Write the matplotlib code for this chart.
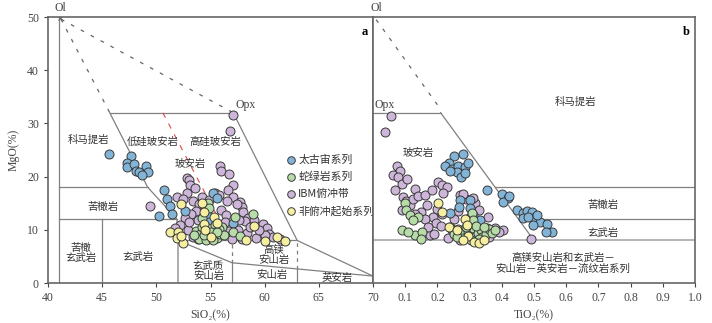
import matplotlib
matplotlib.use("Agg")
import matplotlib.pyplot as plt
import numpy as np

plt.rcParams['font.family'] = ['Liberation Serif', 'Noto Sans CJK SC', 'DejaVu Sans']
CJK = ['Noto Sans CJK SC', 'DejaVu Sans']

# --- data: panel a (SiO2, MgO) ---------------------------------------------
a_blue_x = [45.6, 47.7, 47.3, 47.3, 47.9, 48.1, 48.4, 49.0, 49.2, 48.7,
            50.7, 51.0, 51.3, 51.4, 50.2, 52.6, 55.2, 55.6, 55.0, 57.1, 54.8, 55.2, 54.9]
a_blue_y = [24.2, 23.9, 22.6, 21.8, 22.3, 21.1, 20.9, 22.0, 20.9, 20.3,
            17.4, 15.7, 14.4, 13.0, 12.6, 13.5, 16.9, 15.9, 12.0, 11.2, 12.6, 10.6, 11.4]

a_green_x = [54.8, 54.9, 54.2, 58.9, 57.3, 57.1, 57.7, 56.1, 53.7, 54.0, 54.3, 54.6, 55.0,
             55.3, 55.6, 55.9, 54.8, 55.4, 53.9, 54.6, 55.2, 55.8, 56.2, 54.2, 53.5, 55.0,
             54.4, 55.6]
a_green_y = [15.0, 14.1, 12.2, 13.0, 12.5, 9.6, 8.8, 10.5, 9.8, 9.2, 8.5, 9.6, 8.8,
             9.9, 8.5, 9.3, 10.4, 10.9, 8.3, 8.1, 8.0, 10.1, 9.0, 10.6, 9.1, 9.5,
             9.0, 9.6]

a_purple_x = [57.1, 56.8, 49.4, 55.9, 56.0, 56.7, 57.1, 56.6, 57.1, 57.7, 57.9, 57.4, 58.0,
              58.5, 59.0, 59.8, 60.2, 60.4, 60.8, 61.4, 58.2, 57.6, 52.8, 53.0, 53.1, 53.6,
              52.8, 51.9, 52.5, 53.4, 53.9, 54.2, 54.9, 55.4, 55.8, 53.7, 53.2, 52.6, 52.2,
              51.7, 52.9, 53.4, 53.8, 53.0, 53.8, 56.0, 56.4, 56.3, 56.7, 57.5, 58.4, 57.9,
              59.2, 58.6, 60.0, 59.5, 57.0, 56.5]
a_purple_y = [31.5, 28.5, 14.5, 21.9, 21.1, 20.5, 18.4, 17.4, 16.2, 15.3, 14.3, 14.9, 13.3,
              12.3, 11.8, 11.0, 10.4, 9.3, 8.6, 8.3, 11.6, 11.9, 19.7, 19.3, 18.4, 17.8,
              16.9, 16.2, 15.7, 15.4, 14.8, 16.1, 15.6, 17.0, 16.5, 13.6, 12.9, 12.2, 10.9,
              10.3, 10.0, 8.7, 8.2, 11.5, 11.9, 13.8, 12.7, 11.4, 9.7, 9.9, 9.4, 8.2,
              8.5, 10.6, 9.0, 9.9, 8.2, 15.5]

a_yellow_x = [52.3, 54.2, 54.4, 55.3, 54.4, 55.6, 51.3, 52.0, 51.9, 52.5, 52.3, 59.0, 58.3,
              60.0, 61.1, 61.9, 55.0, 54.5]
a_yellow_y = [14.8, 15.0, 13.4, 12.5, 11.1, 11.2, 9.6, 9.6, 8.4, 7.6, 8.9, 10.7, 8.1,
              7.9, 8.6, 7.9, 8.6, 9.9]

# --- data: panel b (TiO2, MgO) ---------------------------------------------
b_blue_x = [0.252, 0.280, 0.236, 0.224, 0.246, 0.264, 0.286, 0.295, 0.260, 0.273, 0.285, 0.240,
            0.353, 0.402, 0.418, 0.405, 0.423, 0.446, 0.466, 0.478, 0.493, 0.498, 0.467, 0.482,
            0.519, 0.498, 0.539, 0.557, 0.537, 0.510, 0.270, 0.300, 0.268, 0.239, 0.312, 0.332,
            0.300]
b_blue_y = [23.9, 24.2, 22.5, 22.0, 21.5, 21.9, 21.8, 22.6, 20.9, 20.0, 20.7, 21.0,
            17.4, 16.7, 15.9, 15.3, 16.4, 13.8, 13.2, 13.6, 13.4, 12.3, 12.2, 12.5,
            11.5, 10.9, 11.1, 9.6, 9.5, 12.8, 15.6, 15.6, 14.3, 13.1, 12.8, 11.8,
            14.1]

b_green_x = [0.099, 0.102, 0.115, 0.141, 0.125, 0.089, 0.130, 0.151, 0.149, 0.110, 0.306, 0.312,
             0.239, 0.250, 0.265, 0.275, 0.285, 0.295, 0.300, 0.310, 0.315, 0.325, 0.335, 0.340,
             0.350, 0.360, 0.370, 0.380, 0.290, 0.320, 0.330, 0.305, 0.275, 0.345, 0.260]
b_green_y = [15.0, 13.7, 12.8, 12.5, 11.8, 10.0, 9.0, 9.6, 8.2, 9.5, 13.1, 11.8,
             10.6, 9.2, 10.1, 9.6, 8.5, 9.8, 9.0, 10.4, 8.6, 9.4, 9.9, 8.7,
             9.3, 10.1, 9.4, 9.9, 10.6, 10.8, 8.2, 8.0, 8.4, 10.5, 8.6]

b_purple_x = [0.056, 0.037, 0.074, 0.084, 0.063, 0.078, 0.089, 0.068, 0.107, 0.130, 0.094, 0.102,
              0.089, 0.115, 0.125, 0.140, 0.161, 0.182, 0.203, 0.213, 0.229, 0.218, 0.270, 0.317,
              0.290, 0.265, 0.167, 0.187, 0.195, 0.177, 0.190, 0.234, 0.270, 0.353, 0.379, 0.405,
              0.390, 0.490, 0.360, 0.345, 0.358, 0.310, 0.280, 0.150, 0.160, 0.130, 0.200, 0.215,
              0.250, 0.260, 0.280, 0.245, 0.170, 0.210, 0.300, 0.330]
b_purple_y = [31.4, 28.4, 21.9, 21.1, 20.3, 20.0, 18.7, 17.5, 19.5, 17.7, 16.2, 15.5,
              13.7, 14.6, 15.8, 16.3, 16.5, 17.5, 19.0, 18.5, 18.1, 16.9, 16.5, 15.0,
              15.8, 13.5, 14.7, 12.5, 11.2, 9.0, 9.2, 8.4, 8.1, 10.3, 10.3, 10.0,
              9.6, 8.3, 8.7, 9.5, 12.5, 16.0, 16.8, 13.3, 12.0, 13.0, 14.0, 13.0,
              12.0, 9.5, 9.0, 10.0, 10.5, 10.8, 12.5, 13.7]

b_yellow_x = [0.203, 0.213, 0.237, 0.286, 0.293, 0.296, 0.315, 0.330, 0.280, 0.345, 0.260]
b_yellow_y = [15.0, 13.3, 10.6, 12.0, 10.9, 8.9, 7.8, 7.6, 8.0, 8.1, 9.9]

series = ["太古宙系列", "蛇绿岩系列", "IBM俯冲带", "非俯冲起始系列"]
colors = ["#82b4d8", "#b6dca8", "#cdb6d9", "#f6efa0"]

a_sets = [(a_blue_x, a_blue_y), (a_green_x, a_green_y), (a_purple_x, a_purple_y),
          (a_yellow_x, a_yellow_y)]
b_sets = [(b_blue_x, b_blue_y), (b_green_x, b_green_y), (b_purple_x, b_purple_y),
          (b_yellow_x, b_yellow_y)]
draw_order = [2, 0, 1, 3]

LC = "#808080"
TC = "#444444"
fig = plt.figure(figsize=(7.12, 3.23), dpi=100)
ax = fig.add_axes([48 / 712, 40 / 323, 325 / 712, 266 / 323])
bx = fig.add_axes([373 / 712, 40 / 323, 322 / 712, 266 / 323])

for a in (ax, bx):
    a.set_ylim(0, 50)
    for s in a.spines.values():
        s.set_color("#666666")
        s.set_linewidth(1.2)
    a.tick_params(colors=TC, labelsize=8.5, length=3, width=0.8)

ax.set_xlim(40, 70)
ax.set_xticks(np.arange(40, 71, 5))
ax.set_yticks(np.arange(0, 51, 10))
bx.set_xlim(0, 1.0)
bx.set_xticks(np.arange(1, 11) / 10)
bx.set_xticklabels([f"{v / 10:.1f}" for v in range(1, 11)])
bx.set_yticks([])

# --- panel a boundaries -----------------------------------------------------
def seg(a, xs, ys, **kw):
    a.plot(xs, ys, color=kw.pop("color", LC), lw=kw.pop("lw", 0.9), **kw)

seg(ax, [41, 41], [0, 50])
seg(ax, [45.7, 57.1], [32, 32])
seg(ax, [45.7, 49.2, 51.9, 52, 52], [32, 18, 12, 8, 0])
seg(ax, [41, 49.2], [18, 18])
seg(ax, [41, 51.9], [12, 12])
seg(ax, [45, 45], [0, 12])
seg(ax, [52, 63], [8, 8])
seg(ax, [57.1, 63, 70], [32, 8, 1.3])
seg(ax, [52, 57, 70], [8, 3.8, 1.3])
seg(ax, [57, 57], [0, 3.8])
seg(ax, [63, 63], [0, 2.65])
seg(ax, [57, 57], [3.8, 8], ls=(0, (3, 3)))
seg(ax, [63, 63], [2.65, 8], ls=(0, (3, 3)))
seg(ax, [41.2, 57.1], [49.6, 32], ls=(0, (3, 6)), color="#666666")
seg(ax, [41.2, 45.7], [49.6, 32], ls=(0, (3, 6)), color="#666666")
seg(ax, [50.6, 56.8], [32, 8], ls=(0, (5, 6)), color="#e04848", lw=0.8)
ax.plot([41.1], [49.9], marker="x", ms=3, color="#666666", mew=0.8)

ax.text(41.1, 50.6, "Ol", ha="center", va="bottom", fontsize=8.5, color=TC, clip_on=False)
ax.text(57.3, 32.4, "Opx", ha="left", va="bottom", fontsize=8.5, color=TC)
ax.text(0.985, 0.965, "a", transform=ax.transAxes, ha="right", va="top",
        fontsize=9, fontweight="bold")

a_labels = [(43.7, 26.9, "科马提岩"), (49.7, 26.5, "低硅玻安岩"), (55.4, 26.5, "高硅玻安岩"),
            (53.1, 22.4, "玻安岩"), (45.1, 14.3, "苦橄岩"), (43.0, 5.6, "苦橄\n玄武岩"),
            (48.3, 4.9, "玄武岩"), (54.8, 2.3, "玄武质\n安山岩"), (60.8, 5.3, "高镁\n安山岩"),
            (60.7, 1.5, "安山岩"), (66.7, 1.0, "英安岩")]
for x, y, t in a_labels:
    ax.text(x, y, t, ha="center", va="center", fontsize=7.5, family=CJK,
            color="#333333", linespacing=1.0)

# --- panel b boundaries -----------------------------------------------------
seg(bx, [0, 0.21], [32, 32])
seg(bx, [0.21, 0.5], [32, 8])
seg(bx, [0.379, 1.0], [18, 18])
seg(bx, [0.452, 1.0], [12, 12])
seg(bx, [0, 1.0], [8, 8], color="#a8a8a8", lw=1.2)
seg(bx, [0.01, 0.2], [49.5, 33.5], ls=(0, (3, 6)), color="#666666")

bx.text(0.01, 50.6, "Ol", ha="center", va="bottom", fontsize=8.5, color=TC, clip_on=False)
bx.text(0.005, 32.4, "Opx", ha="left", va="bottom", fontsize=8.5, color=TC)
bx.text(0.985, 0.965, "b", transform=bx.transAxes, ha="right", va="top",
        fontsize=9, fontweight="bold")
b_labels = [(0.63, 34.0, "科马提岩"), (0.14, 24.4, "玻安岩"), (0.715, 14.7, "苦橄岩"),
            (0.715, 9.4, "玄武岩"),
            (0.59, 3.7, "高镁安山岩和玄武岩－\n安山岩－英安岩－流纹岩系列")]
for x, y, t in b_labels:
    bx.text(x, y, t, ha="center", va="center", fontsize=7.5, family=CJK,
            color="#333333", linespacing=1.1)

# --- scatter ----------------------------------------------------------------
for a, sets in ((ax, a_sets), (bx, b_sets)):
    for i in draw_order:
        xs, ys = sets[i]
        a.scatter(xs, ys, s=42, facecolor=colors[i], edgecolor="#3a3a3a",
                  linewidth=0.7, zorder=3, label=series[i] if a is ax else None)

handles, labels = ax.get_legend_handles_labels()
order = [labels.index(s) for s in series]
leg = ax.legend([handles[k] for k in order], [labels[k] for k in order],
                loc="upper left", bbox_to_anchor=(0.715, 0.5), frameon=False,
                handletextpad=0.05, labelspacing=0.62, borderaxespad=0,
                handlelength=1.2, prop={"family": CJK, "size": 7.8})
for h in leg.legend_handles:
    h.set_sizes([30])
for t in leg.get_texts():
    t.set_color("#333333")

ax.set_ylabel("MgO(%)", fontsize=8.5, color=TC, labelpad=5)
ax.set_xlabel("SiO₂(%)", fontsize=8.5, color=TC, labelpad=4)
bx.set_xlabel("TiO₂(%)", fontsize=8.5, color=TC, labelpad=4)

fig.savefig("out.png", dpi=100)
